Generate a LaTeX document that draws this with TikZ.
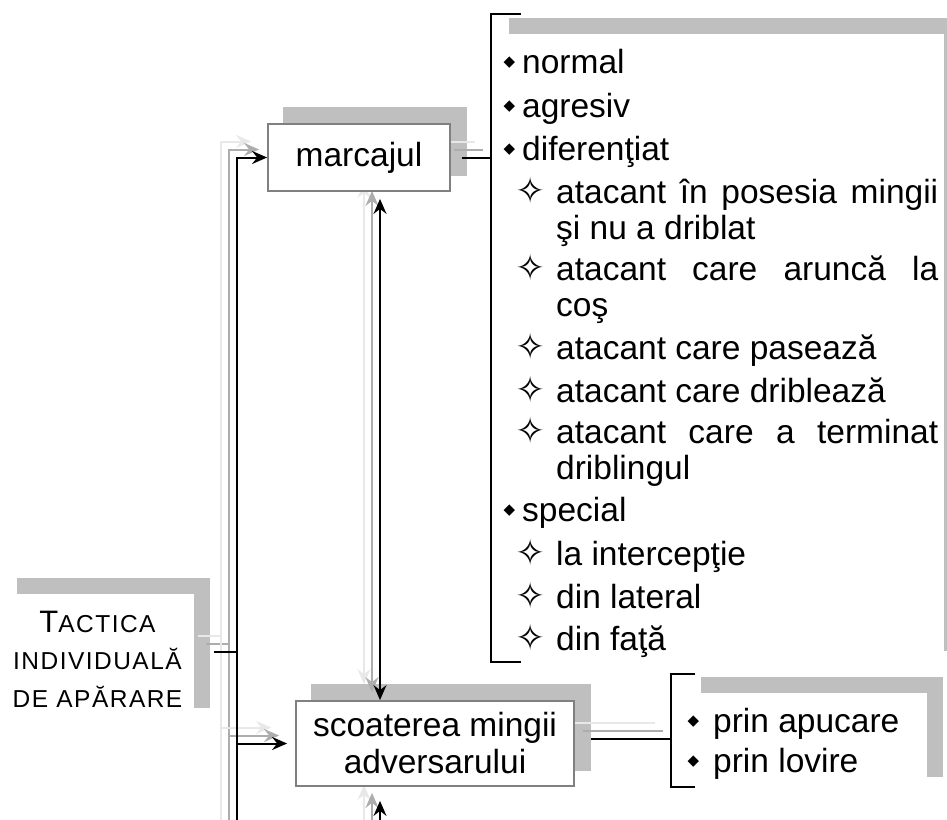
\documentclass[tikz,border=0pt]{standalone}
\usepackage{fontspec}
\setmainfont{Liberation Sans}
\newfontfamily\capsfont[LetterSpace=6]{Liberation Sans}
\newfontfamily\symfont{DejaVu Sans}
\usetikzlibrary{arrows.meta, positioning, calc}

\pgfdeclarelayer{shade}
\pgfdeclarelayer{ghosts}
\pgfdeclarelayer{wires}
\pgfsetlayers{shade,ghosts,wires,main}

\tolerance=10000
\hyphenpenalty=10000

% bullets of the two list levels
\newcommand{\bulA}[1][7pt]{\leavevmode\llap{\raisebox{7pt}{\symfont\fontsize{15}{15}\selectfont ◆}\hspace{#1}}}
\newcommand{\bulB}{\leavevmode\llap{\raisebox{0pt}{\symfont\fontsize{36}{36}\selectfont ✧}\hspace{11pt}}}

% connector drawn with its two grey ghosts
\newcommand{\ghostdraw}[2][]{%
  \begin{pgfonlayer}{ghosts}
    \foreach \sh/\col in {16/black!9, 8/black!32}
      \draw[conn, #1, color=\col, transform canvas={shift={(-\sh,-\sh)}}] #2;
  \end{pgfonlayer}
  \begin{pgfonlayer}{wires}
    \draw[conn, #1] #2;
  \end{pgfonlayer}}

\begin{document}
\begin{tikzpicture}[x=1pt, y=-1pt,
    font=\fontsize{33.5}{37}\selectfont,
    >={Stealth[length=15pt, width=13pt, inset=5pt]},
    box/.style={draw=black!50, line width=1.8pt, fill=white, inner sep=4pt, align=center},
    plain/.style={fill=white, inner sep=0pt},
    conn/.style={line width=2pt},
    brk/.style={line width=2pt},
    itemA/.style={anchor=base west, inner sep=0pt},
    itemB/.style={anchor=base west, inner sep=0pt, text width=382pt, align=justify,
      font=\fontsize{33.5}{36.5}\selectfont}]
    \useasboundingbox (0,0) rectangle (947,819);

    \node[plain, minimum width=193pt, minimum height=130pt, align=center,
      font=\capsfont\fontsize{24.5}{37.5}\selectfont] (tactica) at (97.5,659)
      {{\fontsize{31}{37.5}\selectfont T}ACTICA\\INDIVIDUALĂ\\DE APĂRARE};
    \node[box, minimum width=182pt, minimum height=67pt] (marcajul) at (359,157.5) {marcajul};
    \node[box, minimum width=278pt, minimum height=85pt] (scoat) at (435,743.5) {scoaterea mingii\\adversarului};
    \node[plain, minimum width=451pt, minimum height=633pt] (list1) at (718.5,350.5) {};
    \node[plain, minimum width=242pt, minimum height=100pt] (list2) at (806,743) {};

    \begin{pgfonlayer}{shade}
        \foreach \n in {tactica, marcajul, scoat, list1, list2}
            \fill[black!25] ($(\n.south west)+(16,-16)$) rectangle ($(\n.north east)+(16,-16)$);
    \end{pgfonlayer}

    % marcaj
    \node[itemA] (normal) at (522,73) {\bulA normal};
    \node[itemA] (agresiv) at (522,117) {\bulA agresiv};
    \node[itemA] (dif) at (522,160) {\bulA diferenţiat};
    \node[itemB] (dif1) at (556,203) {\bulB atacant în posesia mingii\linebreak şi nu a driblat};
    \node[itemB] (dif2) at (556,280) {\bulB atacant care aruncă la\linebreak coş};
    \node[itemB] (dif3) at (556,359) {\bulB atacant care pasează};
    \node[itemB] (dif4) at (556,402) {\bulB atacant care driblează};
    \node[itemB] (dif5) at (556,443) {\bulB atacant care a terminat\linebreak driblingul};
    \node[itemA] (special) at (522,521) {\bulA special};
    \node[itemB] (sp1) at (556,565) {\bulB la intercepţie};
    \node[itemB] (sp2) at (556,608) {\bulB din lateral};
    \node[itemB] (sp3) at (556,650) {\bulB din faţă};

    % scoaterea mingii
    \node[itemA] (apucare) at (713,732) {\bulA[14pt]prin apucare};
    \node[itemA] (lovire) at (713,772) {\bulA[14pt]prin lovire};

    \coordinate (b1) at (491,14);
    \coordinate (b1e) at (491,662);
    \coordinate (b2) at (671,674);
    \coordinate (b2e) at (671,787);
    \draw[brk] ($(b1)+(30,0)$) -- (b1) -- (b1e) -- ++(30,0);
    \draw[brk] ($(b2)+(24,0)$) -- (b2) -- (b2e) -- ++(24,0);

    \coordinate (bus) at (237,652);
    \coordinate (busend) at (237,850);
    \coordinate (link) at (380,850);

    \ghostdraw{($(tactica.east)+(20,-7)$) -- (bus)}
    \ghostdraw[->]{(busend) |- (marcajul.west)}
    \ghostdraw[->, shorten >=8pt]{(bus |- scoat.west) -- (scoat.west)}
    \ghostdraw[<->, shorten <=7pt]{(link |- marcajul.south) -- (link |- scoat.north)}
    \ghostdraw[->, shorten >=14pt]{(link) -- (link |- scoat.south)}
    \ghostdraw{($(marcajul.east)+(11,0)$) -- (marcajul.east -| b1)}
    \ghostdraw{($(scoat.east)+(16,-5)$) -- ($(scoat.east -| b2)+(0,-5)$)}
\end{tikzpicture}
\end{document}
